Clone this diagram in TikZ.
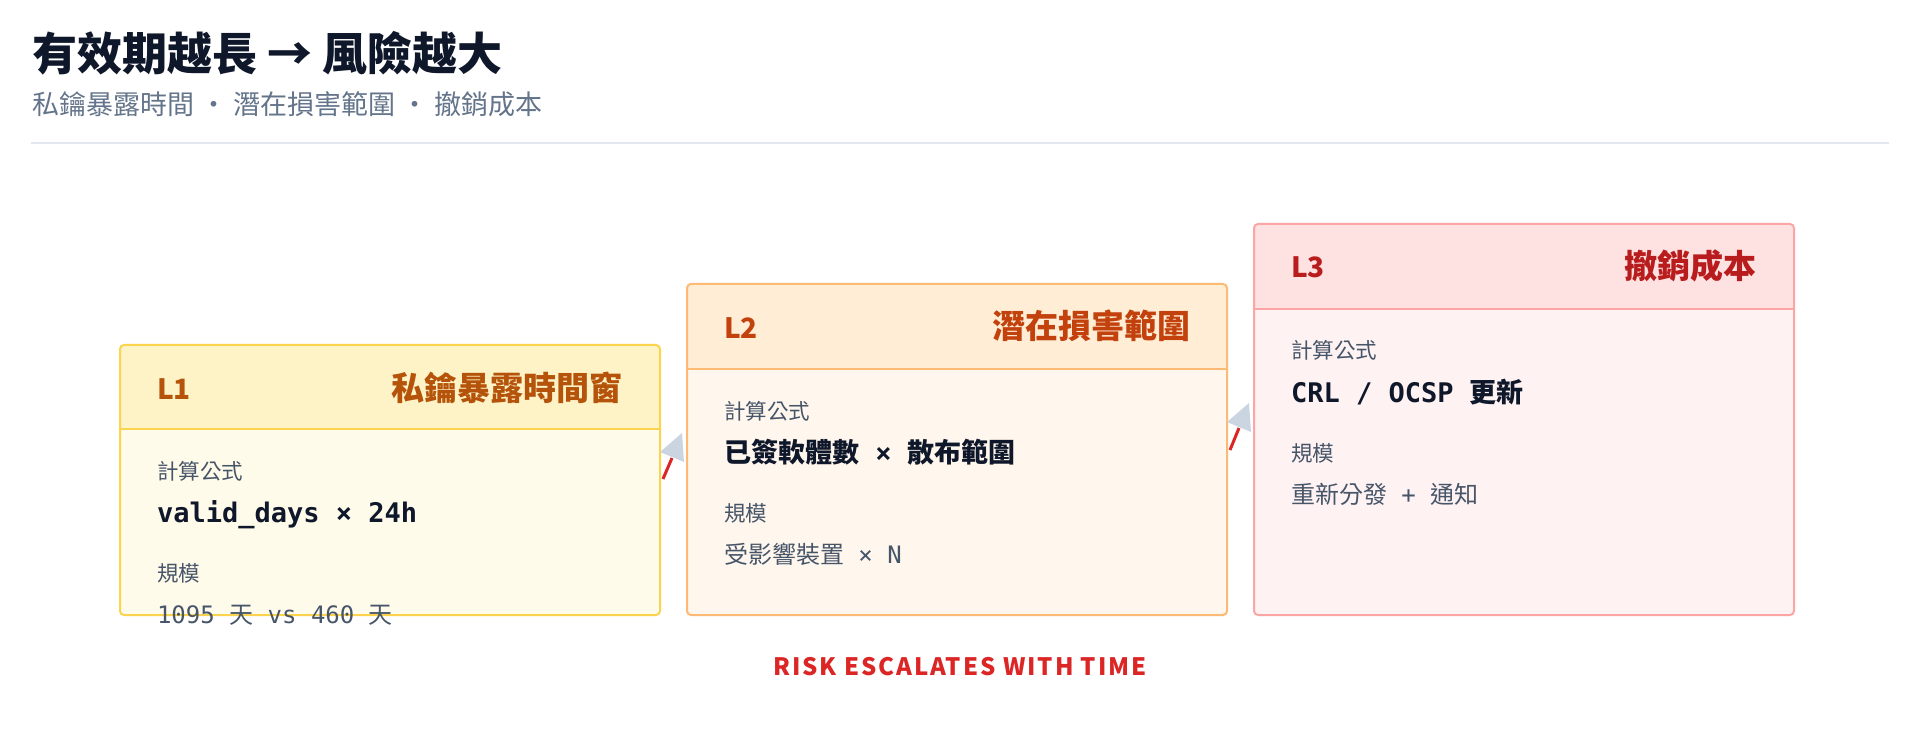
\documentclass[tikz,border=0pt]{standalone}
\usepackage{fontspec}
\setmainfont{Noto Sans CJK TC}
\newfontfamily\cjk{Noto Sans CJK TC}
\newfontfamily\mono{DejaVu Sans Mono}
\newfontfamily\riskf[LetterSpace=8]{Noto Sans CJK TC}
\newcommand\fsz[1]{\fontsize{#1}{#1}\selectfont}
\newcommand\M[1]{{\mono #1}}
\newcommand\MB[1]{{\mono\bfseries #1}}
\newcommand\C[1]{{\cjk #1}}
\newcommand\CB[1]{{\cjk\bfseries #1}}
\definecolor{ink}{HTML}{0F172A}
\definecolor{subc}{HTML}{64748B}
\definecolor{labc}{HTML}{475569}
\definecolor{sepc}{HTML}{E2E8F0}
\definecolor{hdrA}{HTML}{FEF3C7}
\definecolor{bodyA}{HTML}{FFFBEB}
\definecolor{brdA}{HTML}{FCD34D}
\definecolor{txtA}{HTML}{B45309}
\definecolor{hdrB}{HTML}{FFEDD5}
\definecolor{bodyB}{HTML}{FFF7ED}
\definecolor{brdB}{HTML}{FDBA74}
\definecolor{txtB}{HTML}{C2410C}
\definecolor{hdrC}{HTML}{FEE2E2}
\definecolor{bodyC}{HTML}{FEF2F2}
\definecolor{brdC}{HTML}{FCA5A5}
\definecolor{txtC}{HTML}{B91C1C}
\definecolor{riskc}{HTML}{DC2626}
\definecolor{headc}{HTML}{CBD5E1}
\tikzset{
  txt/.style={inner sep=0pt, outer sep=0pt, anchor=base west},
  txtr/.style={inner sep=0pt, outer sep=0pt, anchor=base east},
  card/.style={inner sep=0pt, outer sep=0pt, anchor=north west, minimum width=540pt, rounded corners=4pt},
  cardline/.style={line width=2pt, rounded corners=4pt},
  redline/.style={draw=riskc, line width=3pt},
  headtri/.style={fill=headc},
}
\begin{document}
\begin{tikzpicture}[x=1pt,y=-1pt]
\useasboundingbox[fill=white] (0,0) rectangle (1920,735);

% title
\node[txt, text=ink] (title) at (32,71) {\cjk\bfseries\fsz{45}有效期越長 → 風險越大};
\node[txt, text=subc] (subtitle) at (32,115) {\cjk\fsz{27}私鑰暴露時間 ・ 潛在損害範圍 ・ 撤銷成本};
\coordinate (sepL) at (31,143);
\coordinate (sepR) at (1889,143);
\draw[draw=sepc, line width=2pt] (sepL) -- (sepR);

% ---------- L1 ----------
\node[card, fill=bodyA, minimum height=270pt] (l1) at (120,345) {};
\begin{scope}
  \clip[rounded corners=4pt] (l1.north west) rectangle (l1.south east);
  \fill[hdrA] (l1.north west) rectangle ([yshift=-84pt]l1.north east);
\end{scope}
\draw[draw=brdA, line width=2pt] ([yshift=-84pt]l1.north west) -- ([yshift=-84pt]l1.north east);
\draw[cardline, draw=brdA] (l1.north west) rectangle (l1.south east);
\node[txt, text=txtA] (l1id) at (157,399) {\cjk\bfseries\fsz{28}L1};
\node[txtr, text=txtA] (l1name) at (622,400) {\cjk\bfseries\fsz{33}私鑰暴露時間窗};
\node[txt, text=labc] (l1f) at (157,479) {\cjk\fsz{21.5}計算公式};
\node[txt, text=ink] (l1fv) at (157,522) {\fsz{27}\MB{valid\_days × 24h}};
\node[txt, text=labc] (l1s) at (157,581) {\cjk\fsz{21.5}規模};
\node[txt, text=labc] (l1sv) at (157,623) {\fsz{24}\M{1095 }\C{天}\M{ vs 460 }\C{天}};

% ---------- L2 ----------
\node[card, fill=bodyB, minimum height=331pt] (l2) at (687,284) {};
\begin{scope}
  \clip[rounded corners=4pt] (l2.north west) rectangle (l2.south east);
  \fill[hdrB] (l2.north west) rectangle ([yshift=-85pt]l2.north east);
\end{scope}
\draw[draw=brdB, line width=2pt] ([yshift=-85pt]l2.north west) -- ([yshift=-85pt]l2.north east);
\draw[cardline, draw=brdB] (l2.north west) rectangle (l2.south east);
\node[txt, text=txtB] (l2id) at (724,338) {\cjk\bfseries\fsz{28}L2};
\node[txtr, text=txtB] (l2name) at (1190,339) {\cjk\bfseries\fsz{33}潛在損害範圍};
\node[txt, text=labc] (l2f) at (724,419) {\cjk\fsz{21.5}計算公式};
\node[txt, text=ink] (l2fv) at (724,462) {\fsz{27}\CB{\fsz{27}已簽軟體數}\MB{ × }\CB{\fsz{27}散布範圍}};
\node[txt, text=labc] (l2s) at (724,521) {\cjk\fsz{21.5}規模};
\node[txt, text=labc] (l2sv) at (724,563) {\fsz{24}\C{受影響裝置}\M{ × N}};

% ---------- L3 ----------
\node[card, fill=bodyC, minimum height=391pt] (l3) at (1254,224) {};
\begin{scope}
  \clip[rounded corners=4pt] (l3.north west) rectangle (l3.south east);
  \fill[hdrC] (l3.north west) rectangle ([yshift=-85pt]l3.north east);
\end{scope}
\draw[draw=brdC, line width=2pt] ([yshift=-85pt]l3.north west) -- ([yshift=-85pt]l3.north east);
\draw[cardline, draw=brdC] (l3.north west) rectangle (l3.south east);
\node[txt, text=txtC] (l3id) at (1291,278) {\cjk\bfseries\fsz{28}L3};
\node[txtr, text=txtC] (l3name) at (1756,279) {\cjk\bfseries\fsz{33}撤銷成本};
\node[txt, text=labc] (l3f) at (1291,359) {\cjk\fsz{21.5}計算公式};
\node[txt, text=ink] (l3fv) at (1291,402) {\fsz{27}\MB{CRL / OCSP }\CB{\fsz{27}更新}};
\node[txt, text=labc] (l3s) at (1291,461) {\cjk\fsz{21.5}規模};
\node[txt, text=labc] (l3sv) at (1291,503) {\fsz{24}\C{重新分發}\M{ + }\C{通知}};

% ---------- connectors ----------
\coordinate (a1s) at (663,479);
\coordinate (a1e) at (672,458);
\coordinate (a1t) at (660,452);
\coordinate (a1b) at (682,433);
\coordinate (a1c) at (684,462);
\draw[redline] (a1s) -- (a1e);
\fill[headtri] (a1t) -- (a1b) -- (a1c) -- cycle;

\coordinate (a2s) at (1230,450);
\coordinate (a2e) at (1239,428);
\coordinate (a2t) at (1227,422);
\coordinate (a2b) at (1249,403);
\coordinate (a2c) at (1251,432);
\draw[redline] (a2s) -- (a2e);
\fill[headtri] (a2t) -- (a2b) -- (a2c) -- cycle;

% footer
\node[inner sep=0pt, anchor=base, text=riskc] (risk) at (960,675) {\riskf\bfseries\fsz{24}RISK ESCALATES WITH TIME};
\end{tikzpicture}
\end{document}
